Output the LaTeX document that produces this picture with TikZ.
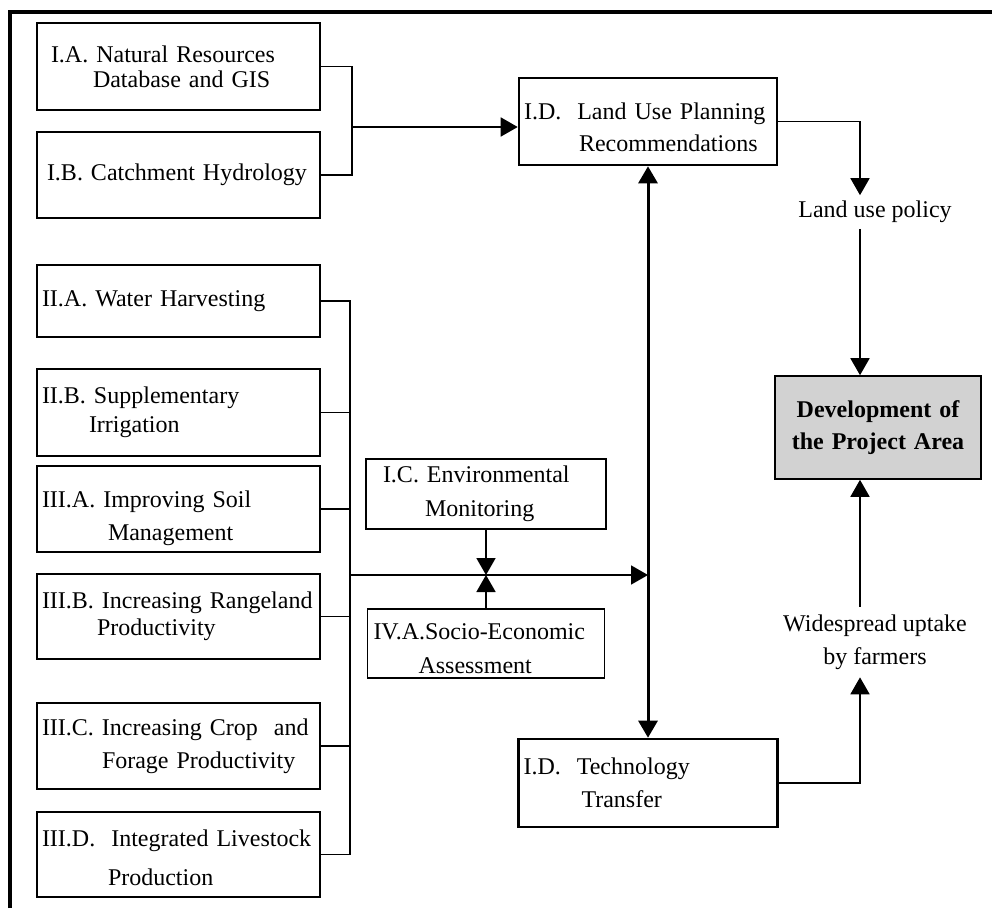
\documentclass[tikz,border=0pt]{standalone}
\usepackage{fontspec}
\setmainfont{Liberation Serif}
\usetikzlibrary{arrows.meta,positioning,calc}

\begin{document}
\begin{tikzpicture}[
    x=1pt, y=-1pt,
    box/.style={rectangle, draw, line width=1.6pt, minimum height=86pt, text width=273pt, inner xsep=5pt, inner ysep=0pt, align=left, font=\fontsize{24}{33}\selectfont},
    thickbox/.style={box, line width=2.6pt},
    lbl/.style={align=center, font=\fontsize{24}{33}\selectfont},
    line/.style={line width=1.8pt},
    arrow/.style={line width=1.8pt, -{Triangle[length=17pt,width=19pt]}},
    dblarrow/.style={line width=3pt, {Triangle[length=17pt,width=19pt]}-{Triangle[length=17pt,width=19pt]}}
]
    \useasboundingbox (0,0) rectangle (992,908);

    % frame
    \draw[line width=4pt] (10,908) -- (10,12) -- (992,12);

    % left column
    \node[thickbox, minimum height=87pt, font=\fontsize{24}{25}\selectfont] (ia) at (178.5,66.5) {\hspace*{9pt}I.A. Natural Resources\\\hspace*{51pt}Database and GIS};
    \node[box] (ib) at (178.5,175) {\hspace*{5pt}I.B. Catchment Hydrology};
    \node[box, minimum height=72pt] (iia) at (178.5,301) {II.A. Water Harvesting};
    \node[box, minimum height=87pt, font=\fontsize{24}{29}\selectfont] (iib) at (178.5,412.5) {II.B. Supplementary\\\hspace*{47pt}Irrigation};
    \node[box] (iiia) at (178.5,509) {\rule{0pt}{36pt}III.A. Improving Soil\\\hspace*{66pt}Management};
    \node[box, minimum height=85pt, font=\fontsize{24}{27}\selectfont] (iiib) at (178.5,616.5) {III.B. Increasing Rangeland\\\hspace*{55pt}Productivity};
    \node[box] (iiic) at (178.5,746) {III.C. Increasing Crop\ \ and\\\hspace*{60pt}Forage Productivity};
    \node[box, minimum height=85pt, font=\fontsize{24}{39}\selectfont] (iiid) at (178.5,854.5) {\rule{0pt}{24pt}III.D.\ \ Integrated Livestock\\\hspace*{66pt}Production};

    % middle
    \node[box, text width=230pt, minimum height=70pt, font=\fontsize{24}{34}\selectfont] (ic) at (486,494) {\hspace*{12pt}I.C. Environmental\\\hspace*{54pt}Monitoring};
    \node[box, text width=232pt, inner xsep=2.5pt, minimum height=69pt, font=\fontsize{24}{34}\selectfont] (iva) at (486,643.5) {\rule{0pt}{26pt}\hspace*{3.5pt}IV.A.Socio-Economic\\\hspace*{48.5pt}Assessment};
    \node[thickbox, text width=248pt, minimum height=87pt, font=\fontsize{24}{32}\selectfont] (lup) at (648,121.5) {\rule{0pt}{28pt}I.D.\ \ Land Use Planning\\\hspace*{55pt}Recommendations};
    \node[thickbox, text width=249pt, minimum height=88pt] (tt) at (648,783) {I.D.\ \ Technology\\\hspace*{58pt}Transfer};

    % right
    \node[box, fill=gray!35, text width=196pt, minimum height=103pt, align=center, font=\fontsize{24}{32}\selectfont\bfseries] (dev) at (878,427.5) {Development of\\the Project Area};
    \node[lbl, inner ysep=5.7pt] (policy) at (875,212) {Land use policy};
    \node[lbl, inner ysep=7.7pt] (uptake) at (875,642) {Widespread uptake\\by farmers};

    % connectors
    \coordinate (topbus) at (352,127);
    \coordinate (bus) at (350,575);
    \coordinate (rl) at (860,0);
    \draw[line] (ia.east) -| (topbus) |- (ib.east);
    \draw[arrow] (topbus) -- (topbus -| lup.west);
    \draw[line] (iia.east) -| (bus);
    \draw[line] (iiid.east) -| (bus);
    \foreach \n in {iib,iiia,iiib,iiic}
        \draw[line] (\n.east) -- (\n.east -| bus);
    \draw[arrow] (bus) -- (bus -| lup.south);
    \draw[arrow] (ic.south) -- (ic.south |- bus);
    \draw[arrow] (iva.north) -- (iva.north |- bus);
    \draw[dblarrow] (lup.south) -- (tt.north);
    \draw[arrow] (lup.east) -| (rl |- policy.north);
    \draw[arrow] (rl |- policy.south) -- (rl |- dev.north);
    \draw[arrow] (rl |- uptake.north) -- (rl |- dev.south);
    \draw[arrow] (tt.east) -| (rl |- uptake.south);
\end{tikzpicture}
\end{document}
